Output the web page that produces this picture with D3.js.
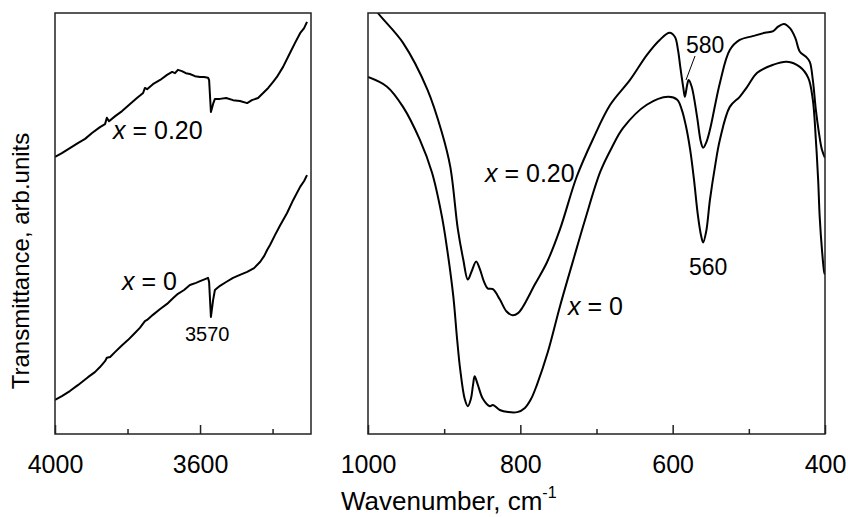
<!DOCTYPE html>
<html><head><meta charset="utf-8">
<script src="https://cdn.jsdelivr.net/npm/d3@7"></script>
<style>
html,body{margin:0;padding:0;background:#fff;}
svg text{font-family:"Liberation Sans",Arial,Helvetica,sans-serif;fill:#000;}
</style></head>
<body><svg id="chart" width="848" height="517"></svg>
<script>
// ---- Data (wavenumber cm^-1, transmittance arb. units 0-100) ----
const leftWn02 = [4000,3981,3959,3937,3917,3898,3876,3862,3857,3851,3834,3815,3793,3774,3757,3752,3746,3730,3710,3691,3677,3669,3661,3650,3639,3628,3614,3600,3589,3578,3575,3570,3564,3559,3545,3528,3509,3490,3470,3457,3440,3426,3412,3399,3388,3371,3352,3338,3324,3313,3305];
const leftT02  = [65.8,66.7,67.9,69.1,70.1,71.5,72.9,73.6,75.1,74.3,75.5,76.7,78.4,79.8,81.0,82.2,81.9,83.1,84.1,85.3,86.0,85.7,86.5,86.2,85.7,85.5,85.0,84.8,84.8,84.6,84.1,76.5,78.4,79.6,79.6,79.8,79.3,79.1,78.6,79.3,79.8,81.0,82.2,83.6,84.8,87.2,90.5,92.9,95.2,96.4,97.9];
const leftWn0  = [4000,3981,3959,3937,3909,3890,3876,3862,3857,3848,3834,3815,3799,3785,3766,3752,3746,3730,3710,3691,3674,3661,3644,3628,3611,3600,3586,3578,3575,3570,3564,3559,3545,3528,3509,3490,3470,3451,3434,3423,3415,3407,3393,3379,3360,3343,3324,3313,3305];
const leftT0   = [8.1,9.0,10.2,11.6,13.5,14.7,15.9,17.3,18.1,18.3,19.5,21.1,22.3,23.5,25.2,26.8,27.1,28.3,29.7,30.9,32.3,33.3,34.2,35.4,35.9,36.3,36.8,37.1,36.1,27.8,31.8,34.2,35.2,36.1,37.1,37.8,38.5,39.4,40.9,42.3,43.7,44.9,47.3,49.6,52.5,55.6,58.7,60.1,61.5];

const rightWn02 = [1004,987,954,922,903,892,882,875,869,864,858,853,848,843,836,827,818,810,803,797,781,765,748,726,705,682,656,634,617,604,597,593,590,586,584,581,579,575,568,563,560,556,551,538,525,512,495,479,468,462,454,446,439,433,425,420,416,412,408,404,400];
const rightT02  = [104.3,100.0,92.9,81.8,71.6,63.5,48.6,41.5,36.7,38.6,41.0,39.1,36.3,34.6,34.4,32.0,29.1,28.2,28.7,30.1,35.5,40.8,48.6,61.1,69.9,78.2,84.1,90.0,93.6,95.3,94.3,91.2,87.2,82.2,80.1,82.9,84.1,82.5,75.4,69.4,68.0,69.2,72.3,83.4,91.2,93.6,94.5,95.3,95.7,96.7,97.4,96.4,94.1,90.8,89.6,88.4,84.1,77.0,71.6,67.5,65.6];
const rightWn0  = [1000,975,954,932,916,903,896,888,883,879,873,869,865,862,860,856,849,840,836,827,816,804,794,786,778,764,748,731,715,695,680,665,634,606,594,588,583,577,572,567,563,560,556,551,544,538,525,512,502,489,468,450,433,422,416,412,409,407,404,401,400];
const rightT0   = [84.8,82.5,77.7,69.9,62.1,51.7,43.8,32.7,22.5,15.4,8.3,6.6,8.3,11.8,13.7,11.8,8.3,6.6,6.9,5.7,5.2,5.2,6.2,8.3,11.8,19.4,30.3,41.0,50.9,62.3,68.0,72.7,78.2,80.1,79.4,77.0,73.5,67.5,60.4,52.1,47.4,45.5,48.1,55.7,64.0,69.9,77.7,80.1,82.5,85.8,87.7,88.4,87.2,84.6,79.4,69.9,60.4,51.7,43.8,38.4,37.9];

const leftMajor = [4000,3600], leftMinor = [3800,3400];
const rightMajor = [1000,800,600,400], rightMinor = [900,700,500];

// ---- Layout ----
const svg = d3.select("#chart");
const plotTop = 13, plotBottom = 434;
const fontTick = 25;
const y = d3.scaleLinear().domain([0,100]).range([plotBottom, plotTop]);
const xL = d3.scaleLinear().domain([4000,3294]).range([55,311]);
const xR = d3.scaleLinear().domain([1000,400]).range([368,825]);

function panel(id, x, major, minor, series, curve){
  const [x0,x1] = x.range();
  svg.append("clipPath").attr("id",id).append("rect")
    .attr("x",x0).attr("y",plotTop).attr("width",x1-x0).attr("height",plotBottom-plotTop);
  const g = svg.append("g").attr("clip-path",`url(#${id})`);
  series.forEach(([wn,t])=>{
    const pts = wn.map((w,i)=>[w,t[i]]);
    g.append("path").datum(pts)
      .attr("fill","none").attr("stroke","#000").attr("stroke-width",2)
      .attr("stroke-linejoin","round")
      .attr("d", d3.line().x(d=>x(d[0])).y(d=>y(d[1])).curve(curve));
  });
  const ax = svg.append("g").attr("transform",`translate(0,${plotBottom})`)
    .call(d3.axisBottom(x).tickValues(major).tickSizeInner(-9).tickSizeOuter(0).tickPadding(21).tickFormat(d3.format("d")));
  ax.select(".domain").remove();
  ax.selectAll("line").attr("stroke","#222").attr("stroke-width",1.5);
  ax.selectAll("text").attr("font-size",fontTick).attr("font-family","Liberation Sans, Arial, sans-serif");
  const mx = svg.append("g").attr("transform",`translate(0,${plotBottom})`)
    .call(d3.axisBottom(x).tickValues(minor).tickSizeInner(-5).tickSizeOuter(0).tickFormat(""));
  mx.select(".domain").remove();
  mx.selectAll("line").attr("stroke","#222").attr("stroke-width",1.5);
  svg.append("rect").attr("x",x0).attr("y",plotTop).attr("width",x1-x0).attr("height",plotBottom-plotTop)
    .attr("fill","none").attr("stroke","#222").attr("stroke-width",1.5);
}

panel("clipL", xL, leftMajor, leftMinor, [[leftWn02,leftT02],[leftWn0,leftT0]], d3.curveLinear);
panel("clipR", xR, rightMajor, rightMinor, [[rightWn02,rightT02],[rightWn0,rightT0]], d3.curveCatmullRom.alpha(0.5));

// ---- Labels ----
function xlabel(xp, yp, val, size){
  const t = svg.append("text").attr("x",xp).attr("y",yp).attr("font-size",size);
  t.append("tspan").attr("font-style","italic").text("x");
  t.append("tspan").text(" = " + val);
}
xlabel(113,139,"0.20",25);
xlabel(122,290,"0",25);
xlabel(485,182,"0.20",25);
xlabel(568,315,"0",25);

svg.append("text").attr("x",185).attr("y",341).attr("font-size",20).text("3570");
svg.append("text").attr("x",689).attr("y",275).attr("font-size",23).text("560");
svg.append("text").attr("x",686).attr("y",53).attr("font-size",23).text("580");
svg.append("line").attr("x1",695).attr("y1",56).attr("x2",686).attr("y2",80)
  .attr("stroke","#000").attr("stroke-width",1);

const xl = svg.append("text").attr("x",341).attr("y",510).attr("font-size",26);
xl.append("tspan").text("Wavenumber, cm");
xl.append("tspan").attr("font-size",16).attr("dy",-12).text("-1");

svg.append("text").attr("transform","translate(29,261) rotate(-90)")
  .attr("text-anchor","middle").attr("font-size",24).text("Transmittance, arb.units");
</script></body></html>
